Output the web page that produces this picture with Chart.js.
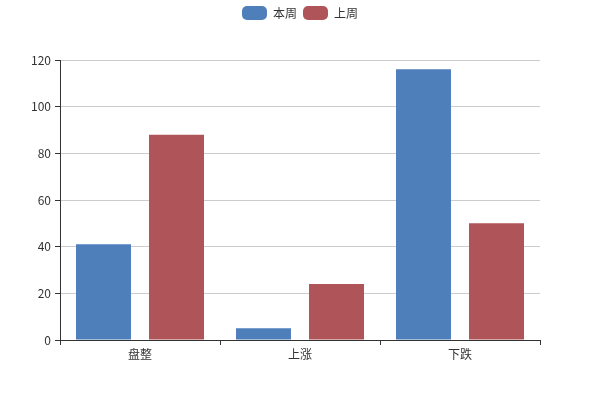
<!DOCTYPE html>
<html>
<head>
<meta charset="utf-8">
<script src="https://cdn.jsdelivr.net/npm/chart.js@4/dist/chart.umd.min.js"></script>
<style>
  html, body { margin: 0; padding: 0; background: #fff; }
  #wrap { width: 600px; height: 400px; }
</style>
</head>
<body>
<div id="wrap"><canvas id="barChart"></canvas></div>
<script>
const categories = ['盘整', '上涨', '下跌'];
const thisWeek = [41, 5, 116];
const lastWeek = [88, 24, 50];
const seriesNames = ['本周', '上周'];

const FONT = '"Noto Sans CJK SC", "Noto Sans", sans-serif';

// push the plot area down below the legend
const legendGap = {
    id: 'legendGap',
    beforeInit(chart) {
        const fit = chart.legend.fit;
        chart.legend.fit = function () {
            fit.bind(chart.legend)();
            this.height += 30;
        };
    }
};

document.addEventListener('DOMContentLoaded', function () {
    const ctx = document.getElementById('barChart').getContext('2d');
    new Chart(ctx, {
        type: 'bar',
        data: {
            labels: categories,
            datasets: [{
                label: seriesNames[0],
                data: thisWeek,
                backgroundColor: '#4e7fbb'
            }, {
                label: seriesNames[1],
                data: lastWeek,
                backgroundColor: '#af5458'
            }]
        },
        options: {
            responsive: true,
            maintainAspectRatio: false,
            animation: false,
            categoryPercentage: 0.9125,
            barPercentage: 0.753,
            layout: { padding: 0 },
            plugins: {
                legend: {
                    position: 'top',
                    labels: {
                        boxWidth: 25,
                        boxHeight: 14,
                        useBorderRadius: true,
                        borderRadius: 5,
                        color: '#333',
                        font: { family: FONT, size: 12 },
                        padding: 6
                    }
                },
                tooltip: { enabled: false }
            },
            scales: {
                x: {
                    afterFit: function (scale) { scale.height = 60; },
                    grid: {
                        offset: true,
                        drawOnChartArea: false,
                        color: '#333',
                        tickLength: 5
                    },
                    border: { color: '#333' },
                    ticks: { color: '#333', font: { family: FONT, size: 12 }, padding: 2 }
                },
                y: {
                    min: 0,
                    max: 120,
                    afterFit: function (scale) { scale.width = 60; },
                    grid: {
                        color: '#ccc',
                        tickColor: '#333',
                        tickLength: 5
                    },
                    border: { color: '#333' },
                    ticks: { stepSize: 20, color: '#333', font: { family: FONT, size: 12 }, padding: 4 }
                },
                yRight: {
                    position: 'right',
                    afterFit: function (scale) { scale.width = 60; },
                    grid: { display: false },
                    border: { display: false },
                    ticks: { display: false }
                }
            }
        },
        plugins: [legendGap]
    });
});
</script>
</body>
</html>
